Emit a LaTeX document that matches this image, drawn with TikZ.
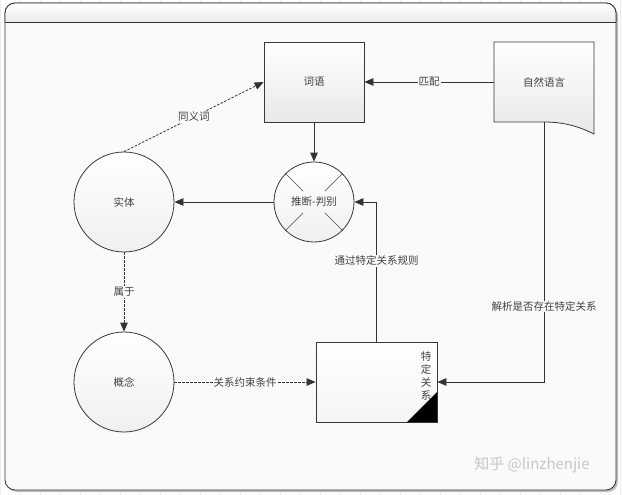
\documentclass[tikz,border=0pt]{standalone}
\usepackage{fontspec}
\newfontfamily\cjk{Noto Sans CJK SC}
\usetikzlibrary{arrows.meta,calc}
\begin{document}
\begin{tikzpicture}[x=1pt,y=-1pt,
  txt/.style={font=\cjk\fontsize{10.5}{12}\selectfont, text=black!75},
  shp/.style={draw=black!78, line width=0.8pt, top color=white, bottom color=black!9},
  box/.style={shp, rectangle, inner sep=0pt, txt},
  circ/.style={shp, circle, inner sep=0pt, txt, top color=white, bottom color=black!6},
  arr/.style={draw=black!80, line width=0.8pt, -{Triangle[length=9pt,width=7.5pt]}},
  darr/.style={arr, dash pattern=on 2.5pt off 1.5pt},
  lbl/.style={txt, fill=black!2, inner sep=1pt},
  xline/.style={draw=black!70, line width=0.6pt}
]
\useasboundingbox (0,0) rectangle (622,495);
\fill[white] (0,0) rectangle (622,495);
\draw[black!7, line width=0.4pt, step=20] (0,0) grid (622,495);
% frame
\fill[black!25] (7,6) [rounded corners=10pt] rectangle (618,492);
\path[fill=black!2, draw=black!80, line width=0.8pt, rounded corners=10pt] (5,3) rectangle (616,490);
\begin{scope}
  \clip[rounded corners=10pt] (5,3) rectangle (616,490);
  \shade[top color=white, bottom color=black!8] (5,3) rectangle (616,22);
\end{scope}
\draw[draw=black!80, line width=0.8pt, rounded corners=10pt] (5,22) -- (5,3) -- (616,3) -- (616,22);
\draw[black!80, line width=0.8pt] (5,22) -- (616,22);

% nodes
\node[box, minimum width=100pt, minimum height=80pt] (ciyu) at (314,82) {词语};
\path[shp] (494,42) -- (594,42) -- (594,134) .. controls (580,127) and (565,122) .. (544,122) -- (494,122) -- cycle;
\node[txt, minimum width=100pt, minimum height=80pt, inner sep=0pt] (zr) at (544,82) {自然语言};
\coordinate (zrb) at (544,122);

\node[circ, minimum size=80pt] (tuiduan) at (314,202) {};
\foreach \a in {45,135,225,315}
  \draw[xline] (tuiduan.\a) -- ($(tuiduan.center)!0.38!(tuiduan.\a)$);
\node[txt] (tdtxt) at (tuiduan.center) {推断-判别};

\node[circ, minimum size=100pt] (shiti) at (124,202) {实体};
\node[circ, minimum size=100pt] (gainian) at (124,382) {概念};

\node[box, minimum width=121pt, minimum height=80pt, top color=white, bottom color=black!4] (tdgx) at (376.5,382) {};
\fill[black] (437,392) -- (437,422) -- (407,422) -- cycle;
\node[txt, align=center, font=\cjk\fontsize{10.5}{13}\selectfont] (tdgxt) at (426,376) {特\\定\\关\\系};

% watermark
\node[font=\cjk\fontsize{15}{16}\selectfont, text=black!22] (wm) at (532,465) {知乎 @linzhenjie};

% connectors
\draw[arr] (zr.west) -- node[lbl] {匹配} (ciyu.east);
\draw[arr] (ciyu.south) -- (tuiduan.north);
\draw[arr] (tuiduan.west) -- (shiti.east);
\draw[darr] (shiti.north) -- node[lbl, pos=0.5] {同义词} (ciyu.west);
\draw[darr] (shiti.south) -- node[lbl] {属于} (gainian.north);
\draw[darr] (gainian.east) -- node[lbl] {关系约束条件} (tdgx.west);
\draw[arr] (tdgx.north) |- node[lbl, pos=0.29] {通过特定关系规则} (tuiduan.east);
\draw[arr] (zrb) |- node[lbl, pos=0.355] {解析是否存在特定关系} (tdgx.east);
\end{tikzpicture}
\end{document}
